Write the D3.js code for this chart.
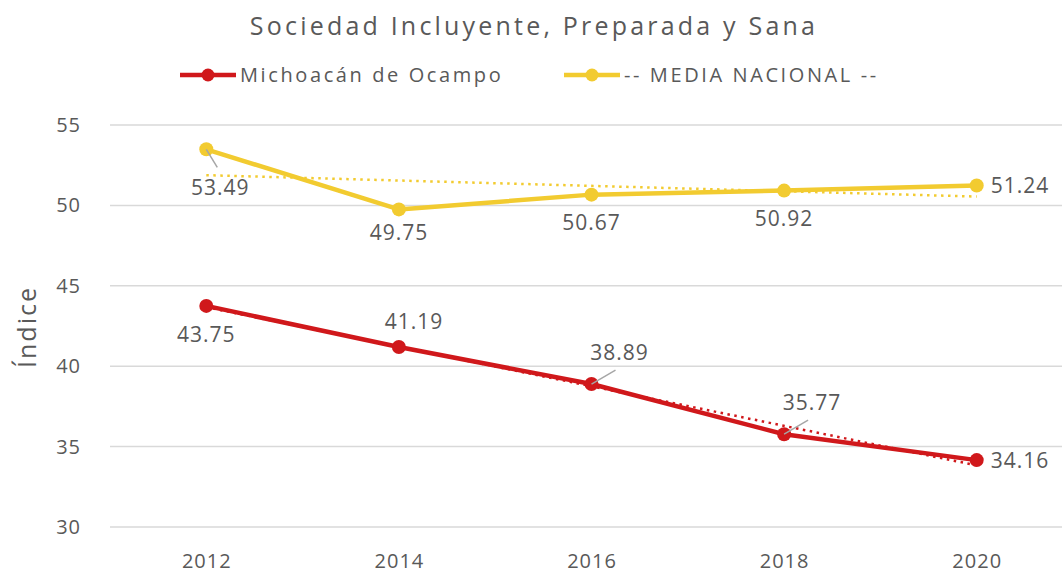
<!DOCTYPE html>
<html>
<head>
<meta charset="utf-8">
<script src="https://cdn.jsdelivr.net/npm/d3@7"></script>
<style>
  body { margin: 0; background: #fff; }
  text { font-family: "Open Sans", "Noto Sans", sans-serif; fill: #595959; }
</style>
</head>
<body>
<script>
var years = ['2012', '2014', '2016', '2018', '2020'];
var michoacan = [43.75, 41.19, 38.89, 35.77, 34.16];
var nacional = [53.49, 49.75, 50.67, 50.92, 51.24];
var yTicks = [30, 35, 40, 45, 50, 55];
// label placement: [dx, dy, anchor, leader]
var michLabels = [[0, 36, 'middle', false], [15, -18, 'middle', false], [28, -24, 'middle', true], [28, -24, 'middle', true], [14, 8, 'start', false]];
var nacLabels = [[14, 46, 'middle', false], [0, 31, 'middle', false], [0, 35, 'middle', false], [0, 35, 'middle', false], [14, 8, 'start', false]];

var w = 1062, h = 580;
var svg = d3.select('body').append('svg')
    .attr('width', w)
    .attr('height', h);

var x = d3.scalePoint()
    .domain(years)
    .range([110, 1073])
    .padding(0.5);
var y = d3.scaleLinear()
    .domain([30, 55])
    .range([527, 125]);

// gridlines
svg.selectAll('.grid')
    .data(yTicks)
    .enter()
    .append('line')
    .attr('x1', 110)
    .attr('x2', 1073)
    .attr('y1', function(d) { return y(d); })
    .attr('y2', function(d) { return y(d); })
    .style('stroke', '#d9d9d9')
    .style('stroke-width', 1.5);

var yAxis = d3.axisLeft(y).tickValues(yTicks).tickSize(0).tickPadding(0);
svg.append('g')
    .attr('transform', 'translate(81,0)')
    .call(yAxis)
    .call(function(g) { g.select('.domain').remove(); })
    .selectAll('text')
    .style('font-size', '20px')
    .style('letter-spacing', '1px')
    .style('fill', '#595959')
    .style('font-family', '"Open Sans", sans-serif');

var xAxis = d3.axisBottom(x).tickSize(0).tickPadding(0);
svg.append('g')
    .attr('transform', 'translate(0,554)')
    .call(xAxis)
    .call(function(g) { g.select('.domain').remove(); })
    .selectAll('text')
    .style('font-size', '20px')
    .style('letter-spacing', '1px')
    .style('fill', '#595959')
    .style('font-family', '"Open Sans", sans-serif');

svg.append('text')
    .attr('transform', 'translate(36,327) rotate(-90)')
    .attr('text-anchor', 'middle')
    .style('font-size', '25px')
    .style('letter-spacing', '2px')
    .text('Índice');

svg.append('text')
    .attr('x', 534)
    .attr('y', 35)
    .attr('text-anchor', 'middle')
    .style('font-size', '25px')
    .style('letter-spacing', '3.2px')
    .text('Sociedad Incluyente, Preparada y Sana');

// linear trend
function trend(vals) {
    var n = vals.length, mx = (n - 1) / 2, my = d3.mean(vals);
    var num = 0, den = 0;
    vals.forEach(function(v, i) { num += (i - mx) * (v - my); den += (i - mx) * (i - mx); });
    var b = num / den, a = my - b * mx;
    return [[0, a], [n - 1, a + b * (n - 1)]];
}

var series = [
    { name: 'Michoacán de Ocampo', vals: michoacan, color: '#D0181B', labels: michLabels },
    { name: '-- MEDIA NACIONAL --', vals: nacional, color: '#F2CB30', labels: nacLabels }
];

var line = d3.line()
    .x(function(d, i) { return x(years[i]); })
    .y(function(d) { return y(d); });

series.forEach(function(s) {
    var t = trend(s.vals);
    svg.append('line')
        .attr('x1', x(years[t[0][0]]))
        .attr('y1', y(t[0][1]))
        .attr('x2', x(years[t[1][0]]))
        .attr('y2', y(t[1][1]))
        .style('stroke', s.color)
        .style('stroke-width', 2.5)
        .style('stroke-dasharray', '2.5,4.5');

    svg.append('path')
        .datum(s.vals)
        .attr('d', line)
        .style('fill', 'none')
        .style('stroke', s.color)
        .style('stroke-width', 4.5)
        .style('stroke-linejoin', 'round');

    svg.selectAll(null)
        .data(s.vals)
        .enter()
        .append('circle')
        .attr('cx', function(d, i) { return x(years[i]); })
        .attr('cy', function(d) { return y(d); })
        .attr('r', 7)
        .style('fill', s.color);

    s.vals.forEach(function(v, i) {
        var p = s.labels[i];
        var px = x(years[i]), py = y(v);
        if (p[3]) {
            svg.append('line')
                .attr('x1', px)
                .attr('y1', py)
                .attr('x2', px + 24)
                .attr('y2', py - 14)
                .style('stroke', '#a6a6a6')
                .style('stroke-width', 1.5);
        }
        svg.append('text')
            .attr('x', px + p[0])
            .attr('y', py + p[1])
            .attr('text-anchor', p[2])
            .style('font-size', '21px')
            .style('letter-spacing', '1px')
            .text(v.toFixed(2));
    });
});

// leader for 53.49
svg.append('line')
    .attr('x1', x(years[0]))
    .attr('y1', y(nacional[0]))
    .attr('x2', x(years[0]) + 11)
    .attr('y2', y(nacional[0]) + 18)
    .style('stroke', '#a6a6a6')
    .style('stroke-width', 1.5);

// legend
var legendPos = [180, 564];
series.forEach(function(s, i) {
    var lx = legendPos[i];
    svg.append('line')
        .attr('x1', lx)
        .attr('x2', lx + 56)
        .attr('y1', 75)
        .attr('y2', 75)
        .style('stroke', s.color)
        .style('stroke-width', 4.5);
    svg.append('circle')
        .attr('cx', lx + 28)
        .attr('cy', 75)
        .attr('r', 6.5)
        .style('fill', s.color);
    svg.append('text')
        .attr('x', lx + 60)
        .attr('y', 82)
        .style('font-size', '20px')
        .style('letter-spacing', '2.6px')
        .text(s.name);
});
</script>
</body>
</html>
